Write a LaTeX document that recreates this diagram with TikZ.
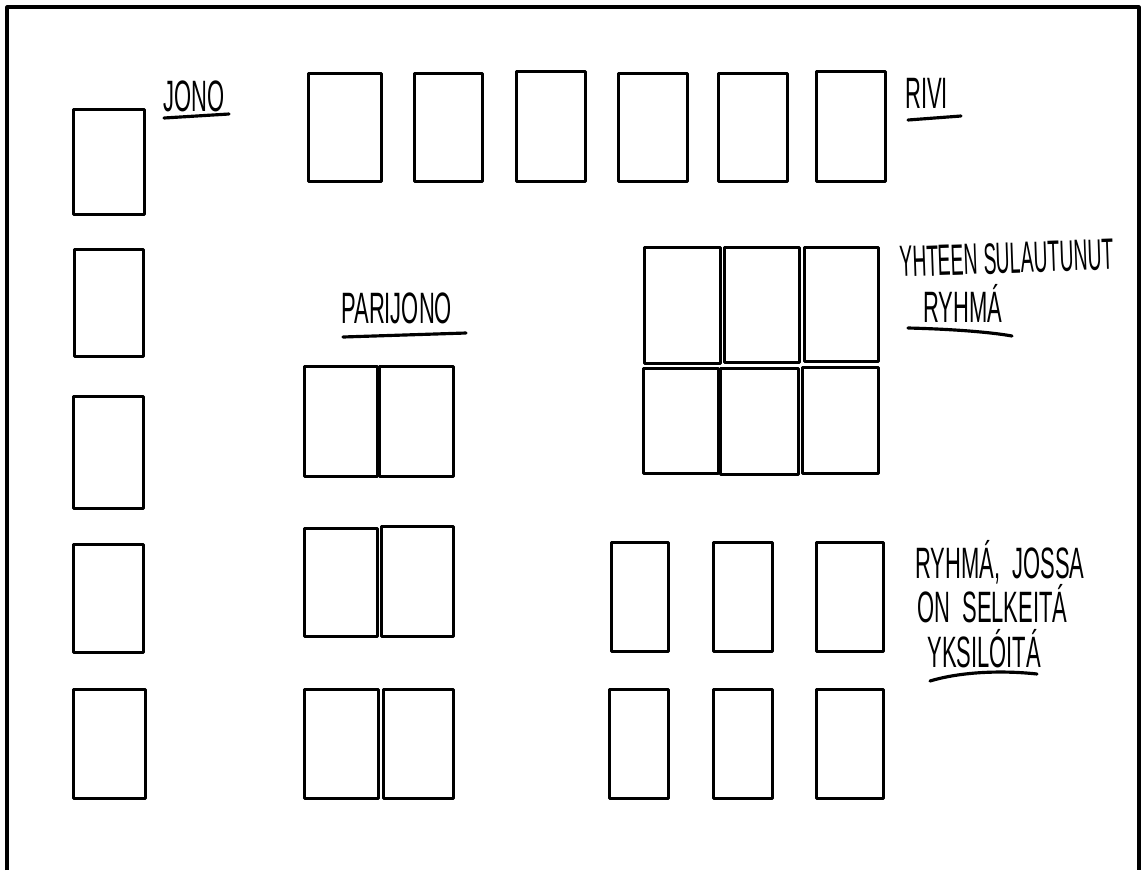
\documentclass[tikz,border=0pt]{standalone}
\usepackage{fontspec}
\usepackage{tikz}
\usetikzlibrary{positioning}
\newfontfamily\hand[FakeStretch=0.5]{Liberation Sans}
\newfontfamily\handnarrow[FakeStretch=0.44]{Liberation Sans}

\begin{document}
\begin{tikzpicture}[x=0.02cm, y=-0.02cm, line join=round, line cap=round,
    card/.style 2 args={draw, line width=1.8pt, inner sep=0pt, anchor=north west,
      minimum width=#1*0.02cm, minimum height=#2*0.02cm},
    lbl/.style={anchor=base west, inner sep=0pt, font=\hand\fontsize{25}{28}\selectfont},
    uline/.style={line width=1.8pt}]
  \useasboundingbox (0,0) rectangle (1144,870);
  % frame, open at the bottom
  \draw[line width=1.8pt, line cap=butt] (7,870) -- (7,7) -- (1139,7) -- (1139,870);

  % jono
  \node[card={71}{105}] (j1) at (72,108) {};
  \node[card={69}{107}] (j2) at (73,248) {};
  \node[card={70}{112}] (j3) at (72,395) {};
  \node[card={70}{108}] (j4) at (72,543) {};
  \node[card={72}{109}] (j5) at (72,688) {};
  \node[lbl] (jono) at (163,111) {JONO};
  \draw[uline] (164,118) -- (229,114);

  % rivi
  \node[card={73}{108}] (r1) at (307,72) {};
  \node[card={68}{108}] (r2) at (413,72) {};
  \node[card={69}{110}] (r3) at (515,70) {};
  \node[card={69}{108}] (r4) at (617,72) {};
  \node[card={69}{108}] (r5) at (717,72) {};
  \node[card={69}{110}] (r6) at (815,70) {};
  \node[lbl] (rivi) at (905,108) {RIVI};
  \draw[uline] (908,120) -- (961,116);

  % parijono
  \node[card={73}{110}] (p1) at (303,365) {};
  \node[card={74}{110}] (p2) at (378,365) {};
  \node[card={73}{108}] (p3) at (303,527) {};
  \node[card={72}{110}] (p4) at (380,525) {};
  \node[card={74}{109}] (p5) at (303,688) {};
  \node[card={70}{109}] (p6) at (382,688) {};
  \node[lbl] (parijono) at (341,323) {PARIJONO};
  \draw[uline] (343,337) -- (466,333);

  % yhteen sulautunut ryhma
  \node[card={76}{116}] (f1) at (643,246) {};
  \node[card={75}{115}] (f2) at (723,246) {};
  \node[card={74}{114}] (f3) at (803,246) {};
  \node[card={75}{105}] (f4) at (642,367) {};
  \node[card={78}{106}] (f5) at (719,367) {};
  \node[card={76}{106}] (f6) at (801,366) {};
  \node[lbl, font=\handnarrow\fontsize{25}{28}\selectfont, rotate=2] (yhteen) at (900,277) {YHTEEN SULAUTUNUT};
  \node[lbl] (ryhma) at (923,322) {RYHMÁ};
  \draw[uline] (908,328) .. controls (950,329) and (990,332) .. (1012,336);

  % ryhma, jossa on selkeita yksiloita
  \node[card={57}{109}] (s1) at (610,541) {};
  \node[card={59}{109}] (s2) at (712,541) {};
  \node[card={67}{109}] (s3) at (815,541) {};
  \node[card={59}{109}] (s4) at (608,688) {};
  \node[card={59}{109}] (s5) at (712,688) {};
  \node[card={67}{109}] (s6) at (815,688) {};
  \node[lbl] (jossa) at (915,578) {RYHMÁ, \ JOSSA};
  \node[lbl] (selkeita) at (917,622) {ON \ SELKEITÁ};
  \node[lbl] (yksiloita) at (927,667) {YKSILÓITÁ};
  \draw[uline] (930,681) .. controls (960,672) and (1000,670) .. (1037,674);
\end{tikzpicture}
\end{document}
